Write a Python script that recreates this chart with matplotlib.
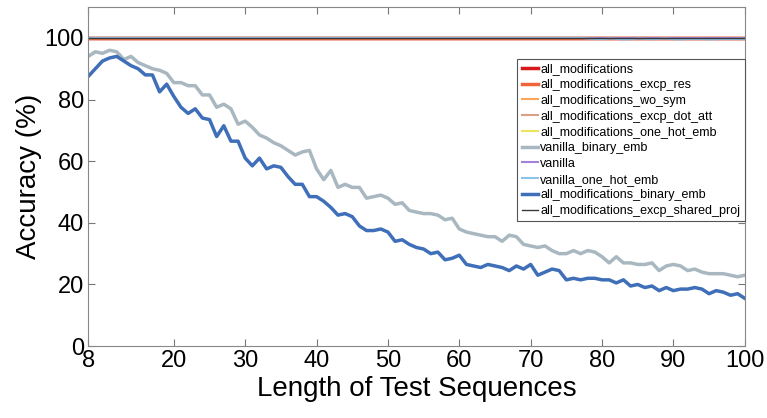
import matplotlib
matplotlib.use('Agg')
import matplotlib.pyplot as plt

plt.rcParams['font.family'] = ['Liberation Sans', 'DejaVu Sans']

lengths = list(range(8, 101))

binary_emb = [87.5, 90, 92.5, 93.5, 94, 92.5, 91, 90, 88, 88, 82.5, 85, 81, 77.5, 75.5, 77, 74, 73.5,
              68, 71.5, 66.5, 66.5, 61, 58.5, 61, 57.5, 58.5, 58, 55, 52.5, 52.5, 48.5, 48.5, 47, 45,
              42.5, 43, 42, 39, 37.5, 37.5, 38, 37, 34, 34.5, 33, 32, 31.5, 30, 30.5, 28, 28.5, 29.5,
              26.5, 26, 25.5, 26.5, 26, 25.5, 24.5, 26, 25, 26.5, 23, 24, 25, 24.5, 21.5, 22, 21.5, 22,
              22, 21.5, 21.5, 20.5, 21.5, 19.5, 20, 19, 19.5, 18, 19, 18, 18.5, 18.5, 19, 18.5, 17, 18,
              17.5, 16.5, 17, 15.5]

vanilla_binary = [94, 95.5, 95, 96, 95.5, 93, 94, 92, 91, 90, 89.5, 88.5, 85.5, 85.5, 84.5, 84.5, 81.5,
                  81.5, 77.5, 78.5, 77, 72, 73, 71, 68.5, 67.5, 66, 65, 63.5, 62, 63, 63.5, 57.5, 54, 57,
                  51.5, 52.5, 51.5, 51.5, 48, 48.5, 49, 48, 46, 46.5, 44, 43.5, 43, 43, 42.5, 41, 41.5, 38,
                  37, 36.5, 36, 35.5, 35.5, 34, 36, 35.5, 33, 32.5, 32, 32.5, 31, 30, 30, 31, 30, 31, 30.5,
                  29, 27, 29, 27, 27, 26.5, 26.5, 27, 24.5, 26, 26.5, 26, 24.5, 25, 24, 23.5, 23.5, 23.5,
                  23, 22.5, 23]

# series that stay at (almost) 100 %
full = [100.0] * len(lengths)
one_hot_vanilla = [100.0] * 70 + [99.8, 99.7, 99.6, 99.8, 99.7, 99.5, 99.6, 99.8, 99.7, 99.6, 99.7,
                                  99.8, 99.6, 99.5, 99.7, 99.6, 99.7, 99.5, 99.6, 99.7, 99.6, 99.7, 99.7]
dot_att = [100.0] * 80 + [99.9, 99.8, 99.9, 99.7, 99.8, 99.9, 99.8, 99.7, 99.9, 99.8, 99.9, 99.8, 99.9]

series = [
    ('all_modifications', full, '#d7191c', 2.5),
    ('all_modifications_excp_res', full, '#f0643c', 2.5),
    ('all_modifications_wo_sym', full, '#fca65a', 1.5),
    ('all_modifications_excp_dot_att', dot_att, '#d9a086', 1.5),
    ('all_modifications_one_hot_emb', full, '#ece45c', 1.5),
    ('vanilla_binary_emb', vanilla_binary, '#a9b8c0', 2.5),
    ('vanilla', full, '#a383d6', 1.5),
    ('vanilla_one_hot_emb', one_hot_vanilla, '#8cc3e8', 1.5),
    ('all_modifications_binary_emb', binary_emb, '#3f6fb8', 2.5),
    ('all_modifications_excp_shared_proj', full, '#3a3a3a', 1.0),
]

fig = plt.figure(figsize=(7.67, 4.18), dpi=100)
ax = fig.add_axes([0.115, 0.172, 0.856, 0.811])
for name, vals, col, lw in series:
    ax.plot(lengths, vals, color=col, lw=lw, label=name)

ax.set_xlim(8, 100)
ax.set_ylim(0, 110)
ax.set_xticks([8, 20, 30, 40, 50, 60, 70, 80, 90, 100])
ax.set_yticks([0, 20, 40, 60, 80, 100])
ax.tick_params(direction='in', top=True, right=True, labelsize=17, length=5, color='#777777', pad=3)
for sp in ax.spines.values():
    sp.set_color('#888888')
ax.set_xlabel('Length of Test Sequences', fontsize=20, labelpad=3)
ax.set_ylabel('Accuracy (%)', fontsize=20, labelpad=2)

leg = ax.legend(loc='upper right', bbox_to_anchor=(1.0, 0.847), borderaxespad=0, fontsize=9,
                handlelength=1.3, handletextpad=0.2, labelspacing=0.3, borderpad=0.35,
                fancybox=False, framealpha=1)
leg.get_frame().set_edgecolor('#555555')
leg.get_frame().set_linewidth(0.8)

fig.savefig('out.png', dpi=100)
